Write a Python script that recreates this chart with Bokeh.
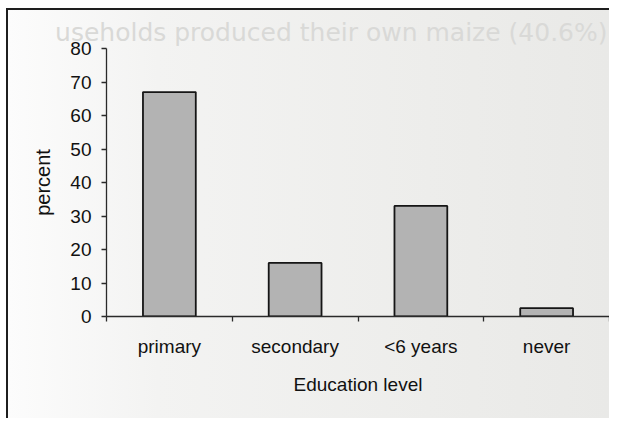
from bokeh.plotting import figure
from bokeh.models import FixedTicker, LinearAxis, Range1d, Title, ColumnDataSource
from bokeh.embed import file_html
from bokeh.resources import INLINE

# ---- data ----
categories = ["primary", "secondary", "<6 years", "never"]
percent = [67, 16, 33, 2.5]
y_ticks = [0, 10, 20, 30, 40, 50, 60, 70, 80]
x_title = "Education level"
y_title = "percent"
ghost_text = "useholds produced their own maize (40.6%)"

positions = list(range(1, len(categories) + 1))
src = ColumnDataSource(dict(x=positions, top=percent, cat=categories))

FONT = "Liberation Sans"

p = figure(
    width=603, height=410,
    x_range=Range1d(0.5, len(categories) + 0.5),
    y_range=Range1d(0, 80),
    output_backend="svg", toolbar_location=None,
    x_axis_type=None, y_axis_type=None,
    min_border_left=98, min_border_right=2, min_border_top=38, min_border_bottom=104,
)
p.styles = {
    "margin-left": "6px",
    "margin-top": "8px",
    "border-left": "2px solid #1e1e1e",
    "border-top": "2px solid #1e1e1e",
    "background": "linear-gradient(to right, #fcfcfc 0%, #f3f3f2 25%, #ededeb 70%, #e9e9e7 100%)",
}
p.background_fill_alpha = 0
p.border_fill_alpha = 0
p.outline_line_color = None
p.xgrid.visible = False
p.ygrid.visible = False

p.vbar(x="x", top="top", bottom=0, width=0.42, source=src,
       fill_color="#b3b3b3", line_color="#151515", line_width=1.8)

# y axis
ya = LinearAxis(ticker=FixedTicker(ticks=y_ticks, minor_ticks=[]))
ya.axis_line_color = "#2a2a2a"
ya.axis_line_width = 1.3
ya.major_tick_line_color = "#2a2a2a"
ya.major_tick_line_width = 1.3
ya.major_tick_in = 0
ya.major_tick_out = 5
ya.minor_tick_line_color = None
ya.major_label_standoff = 10
ya.major_label_text_font = FONT
ya.major_label_text_font_size = "19px"
ya.major_label_text_color = "#111111"
ya.axis_label = y_title
ya.axis_label_text_font = FONT
ya.axis_label_text_font_size = "20px"
ya.axis_label_text_font_style = "normal"
ya.axis_label_text_color = "#111111"
ya.axis_label_standoff = 13
p.add_layout(ya, "left")

# x axis: labels at category centres, ticks at category boundaries
bounds = [i + 0.5 for i in range(0, len(categories) + 1)]
xa = LinearAxis(ticker=FixedTicker(ticks=positions, minor_ticks=bounds))
xa.major_label_overrides = {pos: cat for pos, cat in zip(positions, categories)}
xa.axis_line_color = "#2a2a2a"
xa.axis_line_width = 1.3
xa.major_tick_line_color = None
xa.major_tick_in = 0
xa.major_tick_out = 0
xa.minor_tick_line_color = "#2a2a2a"
xa.minor_tick_line_width = 1.3
xa.minor_tick_in = 0
xa.minor_tick_out = 5
xa.major_label_standoff = 14
xa.major_label_text_font = FONT
xa.major_label_text_font_size = "19px"
xa.major_label_text_color = "#111111"
xa.axis_label = x_title
xa.axis_label_text_font = FONT
xa.axis_label_text_font_size = "19px"
xa.axis_label_text_font_style = "normal"
xa.axis_label_text_color = "#111111"
xa.axis_label_standoff = 14
p.add_layout(xa, "below")

# faint bleed-through text at the top of the scan
t = Title(text=ghost_text, align="right", text_color="#d9d9d7", offset=2, standoff=3,
          text_font="DejaVu Sans", text_font_size="25px", text_font_style="normal")
p.add_layout(t, "above")

open("out.html", "w").write(file_html(p, INLINE))
